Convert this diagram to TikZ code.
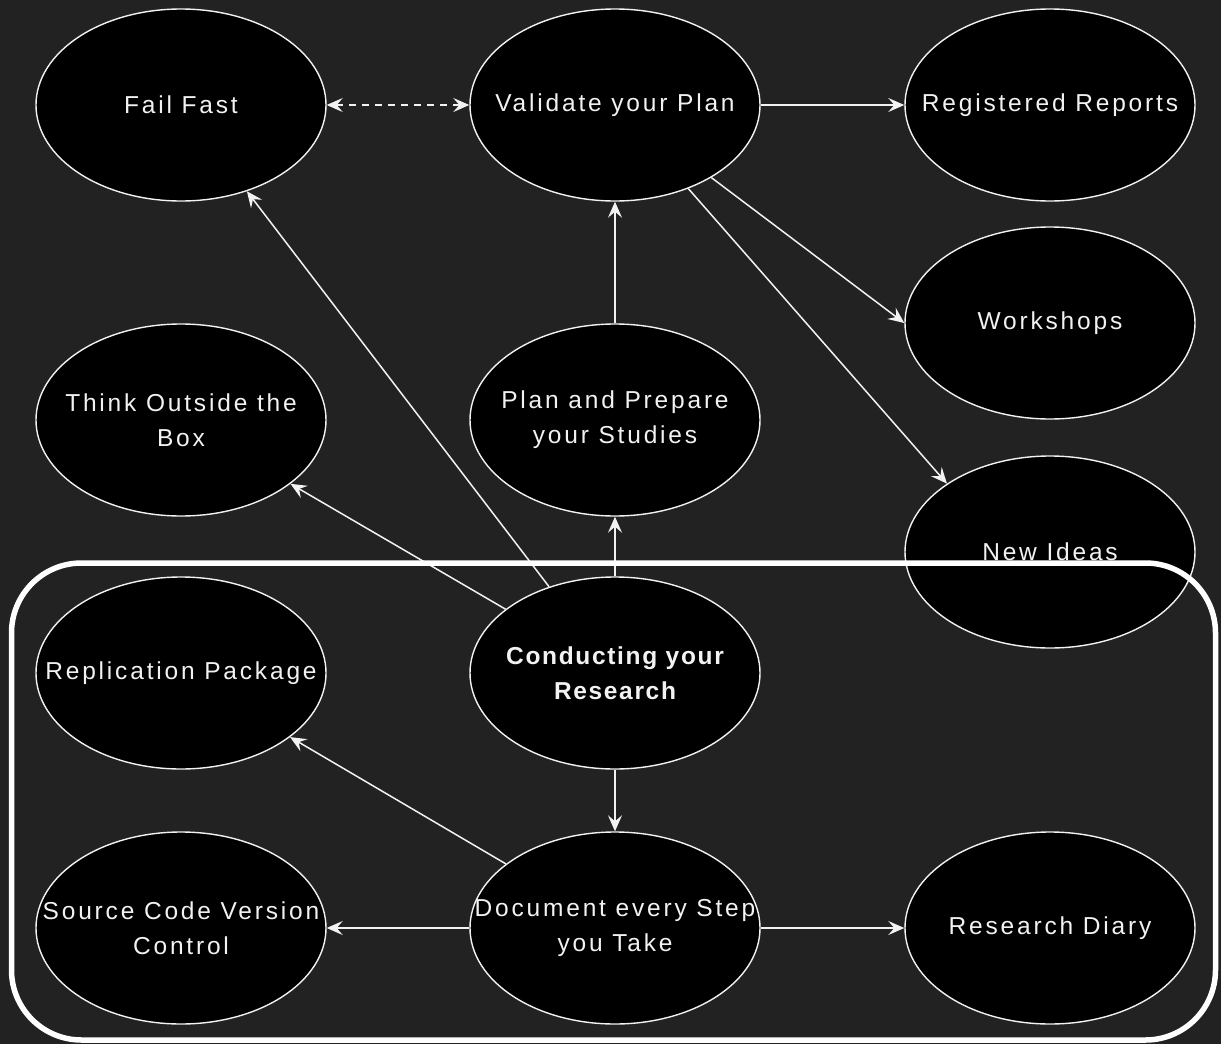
\documentclass[tikz,border=0pt]{standalone}
\usepackage{fontspec}
\setmainfont{Liberation Sans}
\newfontfamily\lblfont[LetterSpace=11.5]{Liberation Sans}
\newfontfamily\boldlblfont[LetterSpace=6.8]{Liberation Sans}
\usetikzlibrary{shapes.geometric,arrows.meta}
\definecolor{canvas}{HTML}{222222}
\definecolor{ink}{HTML}{F2F2F2}
\begin{document}
\begin{tikzpicture}[x=1pt,y=-1pt,
  bub/.style={ellipse,draw=ink,fill=black,line width=1.4pt,
    minimum width=290pt,minimum height=192pt,inner sep=0pt},
  txt/.style={text=ink,align=center,inner sep=0pt,
    font=\lblfont\fontsize{24.5pt}{35pt}\selectfont},
  btxt/.style={txt,font=\boldlblfont\bfseries\fontsize{24.5pt}{35pt}\selectfont},
  tip/.style={-{Stealth[length=16pt,width=14pt,inset=6pt]}},
  link/.style={draw=ink,line width=1.5pt,tip},
  frame/.style={draw=white,line width=5.5pt,rounded corners=70pt}]
  % canvas
  \fill[canvas] (0,0) rectangle (1221,1044);
  \useasboundingbox (0,0) rectangle (1221,1044);

  % top row
  \node[bub,label={[txt]center:Fail Fast}] (ff) at (181,105) {};
  \node[bub,label={[txt]center:Validate your Plan}] (val) at (615,105) {};
  \node[bub,label={[txt]center:Registered Reports}] (reg) at (1050,105) {};
  % second row
  \node[bub,label={[txt]center:Workshops}] (ws) at (1050,323) {};
  \node[bub,label={[txt]center:{Think Outside the\\Box}}] (box) at (181,420) {};
  \node[bub,label={[txt]center:{Plan and Prepare\\your Studies}}] (plan) at (615,420) {};
  \node[bub,label={[txt]center:New Ideas}] (ideas) at (1050,552) {};
  % research block
  \node[bub,label={[txt]center:Replication Package}] (repl) at (181,673) {};
  \node[bub,label={[btxt]center:{Conducting your\\Research}}] (cond) at (615,673) {};
  \node[bub,label={[txt]center:{Source Code Version\\Control}}] (scm) at (181,928) {};
  \node[bub,label={[txt]center:{Document every Step\\you Take}}] (doc) at (615,928) {};
  \node[bub,label={[txt]center:Research Diary}] (diary) at (1050,928) {};

  % connectors
  \draw[link,dash pattern=on 7pt off 6pt,
    {Stealth[length=16pt,width=14pt,inset=6pt]}-{Stealth[length=16pt,width=14pt,inset=6pt]}] (ff) -- (val);
  \draw[link] (val) -- (reg);
  \draw[link] (val) -- (ws.west);
  \draw[link] (val) -- (ideas.north west);
  \draw[link] (plan) -- (val);
  \draw[link] (cond) -- (ff);
  \draw[link] (cond) -- (box);
  \draw[link] (cond) -- (plan);
  \draw[link] (cond) -- (doc);
  \draw[link] (doc) -- (repl);
  \draw[link] (doc) -- (scm);
  \draw[link] (doc) -- (diary);

  % surrounding frame of the research block
  \coordinate (fnw) at (11.5,563);
  \coordinate (fse) at (1215.5,1040);
  \draw[frame] (fnw) rectangle (fse);
\end{tikzpicture}
\end{document}
